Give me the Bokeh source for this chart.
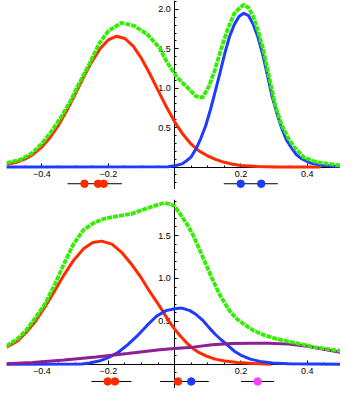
from bokeh.plotting import figure
from bokeh.models import LinearAxis, FixedTicker, Range1d
from bokeh.layouts import column
from bokeh.embed import file_html
from bokeh.resources import INLINE

# ---------------- top panel data ----------------
top_red_x = [-0.507, -0.475, -0.45, -0.425, -0.4, -0.375, -0.35, -0.325, -0.3, -0.275, -0.25, -0.225,
             -0.2, -0.175, -0.15, -0.125, -0.1, -0.075, -0.05, -0.025, 0.0, 0.025, 0.05, 0.075, 0.1,
             0.125, 0.15, 0.175, 0.2, 0.25, 0.3, 0.35, 0.44]
top_red_y = [0.035, 0.061, 0.103, 0.167, 0.257, 0.378, 0.532, 0.716, 0.922, 1.134, 1.334, 1.501,
             1.614, 1.66, 1.631, 1.534, 1.378, 1.184, 0.973, 0.764, 0.574, 0.415, 0.29, 0.2, 0.14,
             0.095, 0.06, 0.036, 0.02, 0.006, 0.001, 0.0, 0.0]

top_blue_x = [-0.507, -0.02, 0.0, 0.022, 0.036, 0.05, 0.065, 0.079, 0.094, 0.108, 0.122, 0.137, 0.151,
              0.165, 0.18, 0.194, 0.208, 0.223, 0.237, 0.251, 0.266, 0.28, 0.294, 0.309, 0.323, 0.337,
              0.352, 0.366, 0.381, 0.41, 0.448, 0.5]
top_blue_y = [0.0, 0.003, 0.015, 0.04, 0.08, 0.13, 0.235, 0.365, 0.53, 0.73, 0.955, 1.2, 1.44,
              1.65, 1.81, 1.91, 1.95, 1.92, 1.81, 1.65, 1.42, 1.16, 0.89, 0.67, 0.49, 0.345,
              0.245, 0.16, 0.11, 0.05, 0.02, 0.005]

top_green_x = [-0.507, -0.467, -0.429, -0.4, -0.371, -0.343, -0.314, -0.285, -0.256, -0.228, -0.199,
               -0.16, -0.122, -0.084, -0.045, -0.022, 0.007, 0.036, 0.065, 0.084, 0.103, 0.122, 0.141,
               0.16, 0.18, 0.194, 0.208, 0.223, 0.237, 0.251, 0.266, 0.285, 0.304, 0.323, 0.343, 0.362,
               0.39, 0.429, 0.5]
top_green_y = [0.05, 0.09, 0.18, 0.30, 0.455, 0.63, 0.84, 1.085, 1.32, 1.565, 1.73,
               1.83, 1.79, 1.69, 1.51, 1.32, 1.14, 1.02, 0.895, 0.88, 1.02, 1.24, 1.51,
               1.75, 1.95, 2.01, 2.06, 2.02, 1.91, 1.73, 1.51, 1.14, 0.77, 0.53, 0.365, 0.245,
               0.12, 0.06, 0.02]

top_red_pts = [-0.272, -0.231, -0.214]
top_blue_pts = [0.199, 0.261]
top_bar_lo = [-0.323, 0.148]
top_bar_hi = [-0.159, 0.311]

# ---------------- bottom panel data ----------------
bot_red_x = [-0.507, -0.476, -0.448, -0.419, -0.39, -0.361, -0.333, -0.305, -0.275, -0.247, -0.22,
             -0.189, -0.16, -0.132, -0.103, -0.074, -0.045, -0.017, 0.0, 0.017, 0.036, 0.055, 0.074,
             0.093, 0.122, 0.151, 0.189, 0.237, 0.29]
bot_red_y = [0.2, 0.265, 0.37, 0.505, 0.675, 0.86, 1.045, 1.21, 1.345, 1.42, 1.435,
             1.4, 1.305, 1.175, 1.02, 0.84, 0.675, 0.5, 0.41, 0.33, 0.25, 0.185, 0.135,
             0.1, 0.06, 0.038, 0.022, 0.01, 0.0]

bot_blue_x = [-0.507, -0.28, -0.257, -0.228, -0.2, -0.17, -0.142, -0.113, -0.084, -0.055, -0.026, 0.0,
              0.022, 0.046, 0.065, 0.084, 0.103, 0.122, 0.141, 0.161, 0.18, 0.199, 0.228, 0.257,
              0.295, 0.343, 0.5]
bot_blue_y = [0.0, 0.003, 0.015, 0.038, 0.078, 0.14, 0.227, 0.33, 0.45, 0.56, 0.625, 0.647,
              0.655, 0.625, 0.58, 0.515, 0.43, 0.35, 0.283, 0.217, 0.153, 0.108, 0.06, 0.034,
              0.015, 0.005, 0.0]

bot_purple_x = [-0.507, -0.429, -0.333, -0.237, -0.142, -0.045, 0.0, 0.055, 0.113, 0.17, 0.228, 0.285,
                0.343, 0.4, 0.457, 0.5]
bot_purple_y = [0.005, 0.022, 0.05, 0.086, 0.127, 0.17, 0.185, 0.2, 0.227, 0.242, 0.245, 0.245,
                0.235, 0.21, 0.17, 0.14]

bot_green_x = [-0.507, -0.476, -0.448, -0.419, -0.39, -0.361, -0.333, -0.305, -0.275, -0.247, -0.218,
               -0.189, -0.16, -0.132, -0.103, -0.074, -0.045, -0.031, -0.015, 0.0, 0.017, 0.036, 0.055,
               0.074, 0.093, 0.113, 0.132, 0.151, 0.17, 0.189, 0.208, 0.237, 0.266, 0.304, 0.343,
               0.381, 0.419, 0.457, 0.5]
bot_green_y = [0.215, 0.29, 0.395, 0.545, 0.71, 0.935, 1.175, 1.4, 1.565, 1.64, 1.69,
               1.715, 1.735, 1.75, 1.79, 1.83, 1.865, 1.88, 1.87, 1.84, 1.75, 1.64, 1.51,
               1.345, 1.175, 1.0, 0.84, 0.71, 0.6, 0.525, 0.47, 0.395, 0.345, 0.30, 0.265,
               0.235, 0.2, 0.18, 0.155]

bot_red_pts = [-0.202, -0.18, 0.01]
bot_blue_pts = [0.05]
bot_magenta_pts = [0.25]
bot_bar_lo = [-0.251, -0.044, 0.2]
bot_bar_hi = [-0.130, 0.103, 0.3]

# ---------------- ticks ----------------
x_major = [-0.4, -0.2, 0.2, 0.4]
x_labels = {-0.4: "\u22120.4", -0.2: "\u22120.2", 0.2: "0.2", 0.4: "0.4"}
x_minor = [-0.5, -0.45, -0.35, -0.3, -0.25, -0.15, -0.1, -0.05, 0.05, 0.1, 0.15, 0.25, 0.3, 0.35, 0.45, 0.5]
top_y_major = [0.5, 1.0, 1.5, 2.0]
bot_y_major = [0.5, 1.0, 1.5]
y_labels = {0.5: "0.5", 1.0: "1.0", 1.5: "1.5", 2.0: "2.0"}
y_minor = [-0.2, -0.1, 0.1, 0.2, 0.3, 0.4, 0.6, 0.7, 0.8, 0.9, 1.1, 1.2, 1.3, 1.4, 1.6, 1.7, 1.8, 1.9, 2.1]

RED = "#ff2a00"
BLUE = "#1e3cff"
GREEN = "#33ee00"
PURPLE = "#8c1e96"
MAGENTA = "#ff40ff"
FONT = "Liberation Sans"


def make_fig(ymin, ymax, top_border, y_major):
    p = figure(frame_width=334, frame_height=189,
               x_range=Range1d(-0.507, 0.5), y_range=Range1d(ymin, ymax),
               x_axis_location=None, y_axis_location=None,
               toolbar_location=None, output_backend="svg",
               min_border_left=6, min_border_right=0, min_border_top=top_border,
               min_border_bottom=0, outline_line_color=None,
               background_fill_color="white", border_fill_color="white")
    p.grid.visible = False
    xa = LinearAxis(fixed_location=0, ticker=FixedTicker(ticks=x_major, minor_ticks=x_minor),
                    major_label_overrides=x_labels, level="underlay")
    ya = LinearAxis(fixed_location=0, ticker=FixedTicker(ticks=y_major, minor_ticks=y_minor),
                    major_label_overrides=y_labels, level="underlay")
    for ax in (xa, ya):
        ax.axis_line_color = "black"
        ax.axis_line_width = 1
        ax.major_tick_in = 4
        ax.major_tick_out = 0
        ax.minor_tick_in = 2
        ax.minor_tick_out = 0
        ax.major_label_standoff = 4
        ax.major_label_text_font = FONT
        ax.major_label_text_font_size = "9px"
        ax.major_label_text_color = "black"
    p.add_layout(xa, "below")
    p.add_layout(ya, "left")
    return p


# top figure
p1 = make_fig(-0.285, 2.113, 0, top_y_major)
p1.line(top_red_x, top_red_y, line_color=RED, line_width=3)
p1.line(top_blue_x, top_blue_y, line_color=BLUE, line_width=3)
p1.line(top_green_x, top_green_y, line_color=GREEN, line_width=3.8, line_dash="5 1")
row1 = -0.212
p1.segment(x0=top_bar_lo, y0=[row1] * len(top_bar_lo), x1=top_bar_hi, y1=[row1] * len(top_bar_hi),
           line_color="black", line_width=1)
p1.scatter(top_red_pts, [row1] * len(top_red_pts), size=7.5, color=RED)
p1.scatter(top_blue_pts, [row1] * len(top_blue_pts), size=7.5, color=BLUE)

# bottom figure
p2 = make_fig(-0.282, 1.92, 10, bot_y_major)
p2.line(bot_red_x, bot_red_y, line_color=RED, line_width=3)
p2.line(bot_blue_x, bot_blue_y, line_color=BLUE, line_width=3)
p2.line(bot_purple_x, bot_purple_y, line_color=PURPLE, line_width=3)
p2.line(bot_green_x, bot_green_y, line_color=GREEN, line_width=3.8, line_dash="5 1")
row2 = -0.2
p2.segment(x0=bot_bar_lo, y0=[row2] * len(bot_bar_lo), x1=bot_bar_hi, y1=[row2] * len(bot_bar_hi),
           line_color="black", line_width=1)
p2.scatter(bot_red_pts, [row2] * len(bot_red_pts), size=7.5, color=RED)
p2.scatter(bot_blue_pts, [row2] * len(bot_blue_pts), size=7.5, color=BLUE)
p2.scatter(bot_magenta_pts, [row2] * len(bot_magenta_pts), size=7.5, color=MAGENTA)

layout = column(p1, p2, spacing=0)
open("out.html", "w").write(file_html(layout, INLINE))
